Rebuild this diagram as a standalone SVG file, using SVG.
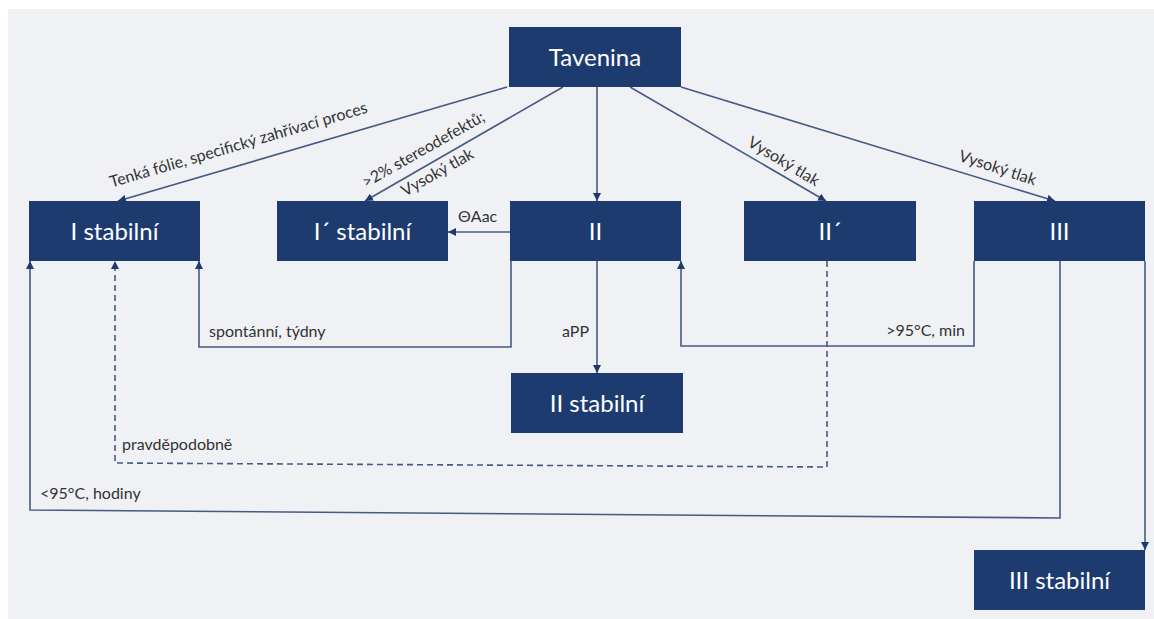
<svg xmlns="http://www.w3.org/2000/svg" width="1154" height="619" viewBox="0 0 1154 619">
<style>
.box{fill:#1d3b6f}
.bt{fill:#ffffff;font-family:Lato,"Liberation Sans",sans-serif;font-size:24px;text-anchor:middle}
.ln{fill:none;stroke:#465a82;stroke-width:1.6}
.ds{stroke-dasharray:6,4}
.lb{fill:#333333;font-family:Lato,"Liberation Sans",sans-serif;font-size:16px}
</style>
<defs>
<marker id="ah" viewBox="0 0 10 10" refX="10" refY="5" markerWidth="8" markerHeight="8" markerUnits="userSpaceOnUse" orient="auto">
<path d="M0,0 L10,5 L0,10 Z" fill="#1d3b6f"/>
</marker>
</defs>
<rect x="0" y="0" width="1154" height="619" fill="#ffffff"/>
<rect x="8" y="9" width="1146" height="610" fill="#eff1f5"/>

<g id="connectors">
<path class="ln" d="M507,87 L118,201" marker-end="url(#ah)"/>
<path class="ln" d="M563,87 L365,201" marker-end="url(#ah)"/>
<path class="ln" d="M597,87 L597,201" marker-end="url(#ah)"/>
<path class="ln" d="M630,87 L826,201" marker-end="url(#ah)"/>
<path class="ln" d="M681,87 L1055,201" marker-end="url(#ah)"/>
<path class="ln" d="M510,232 L448,232" marker-end="url(#ah)"/>
<path class="ln" d="M511,261 L511,347 L199,347 L199,261" marker-end="url(#ah)"/>
<path class="ln" d="M597,261 L597,373" marker-end="url(#ah)"/>
<path class="ln" d="M974,261 L974,346 L681,346 L681,261" marker-end="url(#ah)"/>
<path class="ln ds" d="M827,261 L827,467 L115,463 L115,261" marker-end="url(#ah)"/>
<path class="ln" d="M1060,261 L1060,518 L30,510 L30,261" marker-end="url(#ah)"/>
<path class="ln" d="M1145,261 L1145,550" marker-end="url(#ah)"/>

<text class="lb" text-anchor="middle" transform="translate(240,150) rotate(-16.3)">Tenká fólie, specifický zahřívací proces</text>
<text class="lb" text-anchor="middle" transform="translate(426,154) rotate(-29.5)">&gt;2% stereodefektů;</text>
<text class="lb" text-anchor="middle" transform="translate(440,177) rotate(-29.5)">Vysoký tlak</text>
<text class="lb" text-anchor="middle" transform="translate(781,166) rotate(31)">Vysoký tlak</text>
<text class="lb" text-anchor="middle" transform="translate(996,173) rotate(18)">Vysoký tlak</text>
<text class="lb" x="458" y="222">ΘAac</text>
<text class="lb" x="209" y="337">spontánní, týdny</text>
<text class="lb" x="562" y="337">aPP</text>
<text class="lb" x="965" y="336" text-anchor="end">&gt;95°C, min</text>
<text class="lb" x="122" y="450">pravděpodobně</text>
<text class="lb" x="40" y="499">&lt;95°C, hodiny</text>
</g>

<g id="tavenina"><rect class="box" x="509" y="27" width="172" height="60"/><text class="bt" x="595" y="66">Tavenina</text></g>
<g id="i-stabilni"><rect class="box" x="29" y="201" width="171" height="60"/><text class="bt" x="114.5" y="240">I stabilní</text></g>
<g id="i-prime-stabilni"><rect class="box" x="277" y="201" width="171" height="60"/><text class="bt" x="362.5" y="240">I´ stabilní</text></g>
<g id="ii"><rect class="box" x="510" y="201" width="171" height="60"/><text class="bt" x="595.5" y="240">II</text></g>
<g id="ii-prime"><rect class="box" x="744" y="201" width="172" height="60"/><text class="bt" x="830" y="240">II´</text></g>
<g id="iii"><rect class="box" x="974" y="201" width="171" height="60"/><text class="bt" x="1059.5" y="240">III</text></g>
<g id="ii-stabilni"><rect class="box" x="511" y="373" width="172" height="60"/><text class="bt" x="597" y="412">II stabilní</text></g>
<g id="iii-stabilni"><rect class="box" x="974" y="550" width="171" height="60"/><text class="bt" x="1059.5" y="589">III stabilní</text></g>
</svg>
